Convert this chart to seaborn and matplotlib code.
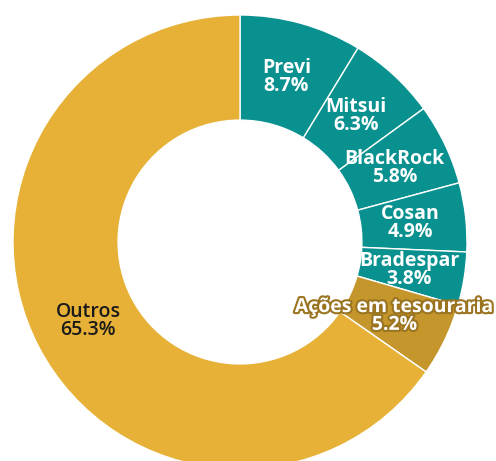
import matplotlib
matplotlib.use("Agg")
import matplotlib.pyplot as plt
import matplotlib.patheffects as pe
import numpy as np
import seaborn as sns

# shareholder composition (%), clockwise from the top
labels = ["Previ", "Mitsui", "BlackRock", "Cosan", "Bradespar", "Ações em tesouraria", "Outros"]
shares = [8.7, 6.3, 5.8, 4.9, 3.8, 5.2, 65.3]

TEAL = "#08918F"
GOLD = "#E6B136"
DARK_GOLD = "#C4962C"
colors = [TEAL] * 5 + [DARK_GOLD, GOLD]

sns.set_theme(style="white")
plt.rcParams["font.family"] = ["Open Sans", "DejaVu Sans"]

fig = plt.figure(figsize=(4.96, 4.61), dpi=100)
# donut is a bit cut off at the bottom, like the original
ax = fig.add_axes([13 / 496, -8 / 461, 454 / 496, 454 / 461])

wedges, _ = ax.pie(
    shares,
    colors=colors,
    startangle=90,
    counterclock=False,
    radius=1,
    wedgeprops=dict(width=0.463, edgecolor="white", linewidth=1),
)
ax.set_xlim(-1, 1)
ax.set_ylim(-1, 1)
ax.axis("off")

for w, lab, val in zip(wedges, labels, shares):
    ang = np.deg2rad((w.theta1 + w.theta2) / 2)
    r = 0.755
    x, y = r * np.cos(ang), r * np.sin(ang)
    txt = f"{lab}\n{val:.1f}%"
    if lab == "Outros":
        ax.text(x, y, txt, ha="center", va="center", fontsize=14,
                color="#1a1a1a", fontweight="semibold", linespacing=0.85)
    elif lab == "Ações em tesouraria":
        ax.text(x, y, txt, ha="center", va="center", fontsize=14,
                color="white", fontweight="bold", linespacing=0.85,
                path_effects=[pe.withStroke(linewidth=3, foreground="#9A7420")])
    else:
        ax.text(x, y, txt, ha="center", va="center", fontsize=14,
                color="white", fontweight="bold", linespacing=0.85)

fig.savefig("out.png", dpi=100)
